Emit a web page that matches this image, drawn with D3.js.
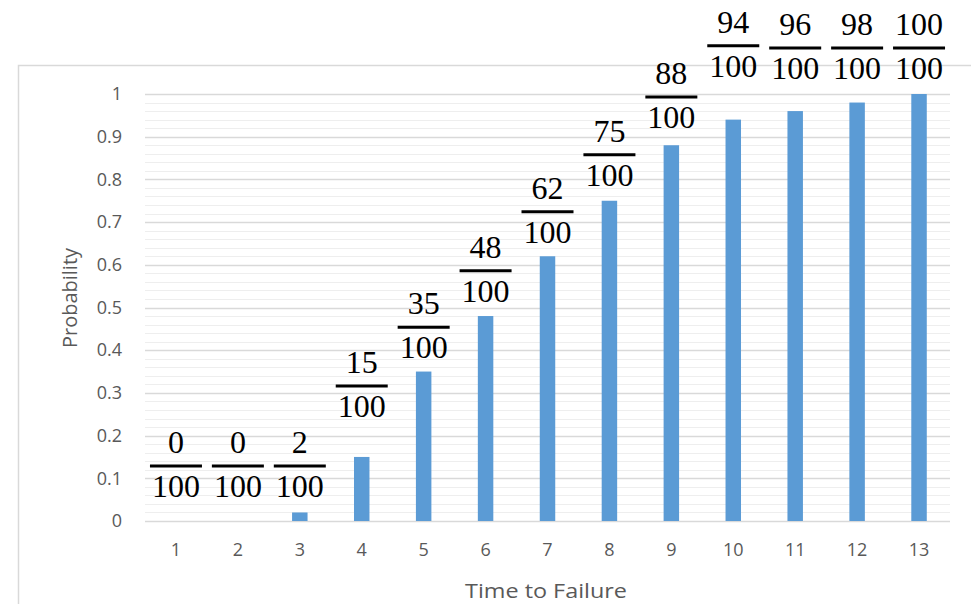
<!DOCTYPE html>
<html lang="en">
<head>
  <meta charset="UTF-8">
  <title>Time to Failure</title>
  <style>
    body { margin: 0; padding: 0; background: #fff; }
    svg { display: block; }
    .tick text { font-family: "Open Sans", sans-serif; fill: #595959; }
    .frac text { font-family: "Liberation Serif", serif; font-size: 32px; fill: #000; }
  </style>
</head>
<body>
<svg width="971" height="604"></svg>
<script src="https://d3js.org/d3.v7.min.js"></script>
<script>
const times = [1, 2, 3, 4, 5, 6, 7, 8, 9, 10, 11, 12, 13];
const failures = [0, 0, 2, 15, 35, 48, 62, 75, 88, 94, 96, 98, 100];
const total = 100;
const yTicks = [0, 0.1, 0.2, 0.3, 0.4, 0.5, 0.6, 0.7, 0.8, 0.9, 1];
// level (in probability units) where each fraction bar sits, as placed in the original
const labelLevels = [0.129, 0.129, 0.129, 0.316, 0.454, 0.586, 0.724, 0.858, 0.993, 1.113, 1.108, 1.108, 1.108];

const svg = d3.select("svg");
const plotLeft = 145, plotRight = 950, plotTop = 94, plotBottom = 521;

// chart area frame
svg.append("rect")
  .attr("x", 18.5).attr("y", 65.5)
  .attr("width", 1000).attr("height", 600)
  .attr("fill", "none").attr("stroke", "#d9d9d9").attr("stroke-width", 1.5);

const x = d3.scaleBand().domain(times).range([plotLeft, plotRight]).paddingInner(0.75).paddingOuter(0.375);
const y = d3.scaleLinear().domain([0, 1]).range([plotBottom, plotTop]);

// minor gridlines
svg.append("g").selectAll("line")
  .data(d3.range(0, 101, 2).map(v => v / 100))
  .join("line")
  .attr("x1", plotLeft).attr("x2", plotRight)
  .attr("y1", d => Math.round(y(d)) + 0.5).attr("y2", d => Math.round(y(d)) + 0.5)
  .attr("stroke", "#eeeeee").attr("stroke-width", 1.2);

// major gridlines
svg.append("g").selectAll("line")
  .data(yTicks)
  .join("line")
  .attr("x1", plotLeft).attr("x2", plotRight)
  .attr("y1", d => Math.round(y(d)) + 0.5).attr("y2", d => Math.round(y(d)) + 0.5)
  .attr("stroke", "#d9d9d9").attr("stroke-width", 1.4);

// bars
svg.append("g").selectAll("rect")
  .data(times)
  .join("rect")
  .attr("x", d => x(d))
  .attr("width", x.bandwidth())
  .attr("y", (d, i) => y(failures[i] / total))
  .attr("height", (d, i) => plotBottom - y(failures[i] / total))
  .attr("fill", "#5b9bd5");

// axes
const yAxis = svg.append("g")
  .attr("transform", `translate(${plotLeft - 23},0)`)
  .call(d3.axisLeft(y).tickValues(yTicks).tickSize(0).tickPadding(0).tickFormat(d3.format("")));
yAxis.select(".domain").remove();
yAxis.selectAll("text").style("font-size", "18px");

const xAxis = svg.append("g")
  .attr("transform", `translate(0,${plotBottom})`)
  .call(d3.axisBottom(x).tickSize(0).tickPadding(22));
xAxis.select(".domain").remove();
xAxis.selectAll("text").style("font-size", "18px");

svg.append("text")
  .attr("transform", `translate(77,298) rotate(-90)`)
  .attr("text-anchor", "middle")
  .style("font-family", "Open Sans, sans-serif")
  .style("font-size", "20px")
  .attr("fill", "#595959")
  .text("Probability");

svg.append("text")
  .attr("x", 546).attr("y", 598)
  .attr("text-anchor", "middle")
  .attr("textLength", 162)
  .attr("lengthAdjust", "spacingAndGlyphs")
  .style("font-family", "Open Sans, sans-serif")
  .style("font-size", "20px")
  .attr("fill", "#595959")
  .text("Time to Failure");

// fraction labels
const frac = svg.append("g").selectAll("g")
  .data(times)
  .join("g")
  .attr("class", "frac")
  .attr("transform", (d, i) => `translate(${x(d) + x.bandwidth() / 2},${y(labelLevels[i])})`);

frac.append("line")
  .attr("x1", -26).attr("x2", 26)
  .attr("stroke", "#000").attr("stroke-width", 3);

frac.append("text")
  .attr("y", -13)
  .attr("text-anchor", "middle")
  .text((d, i) => failures[i]);

frac.append("text")
  .attr("y", 31)
  .attr("text-anchor", "middle")
  .text(total);
</script>
</body>
</html>
